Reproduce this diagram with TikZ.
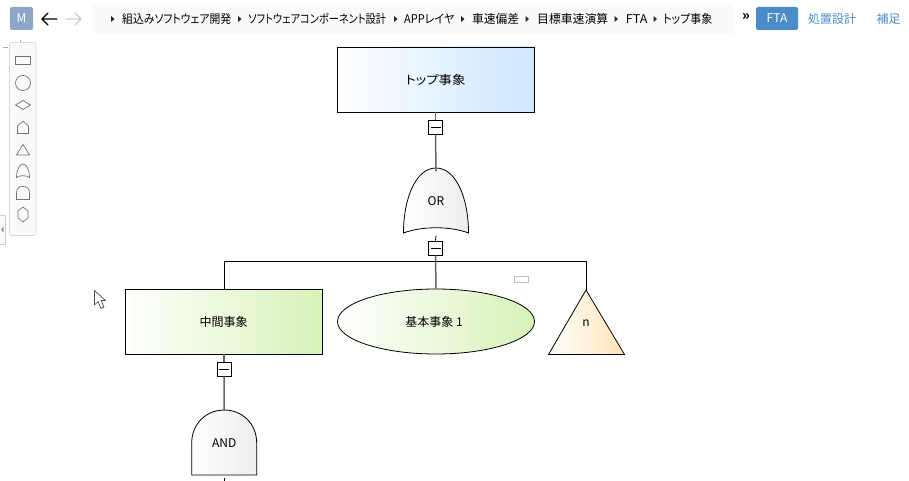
\documentclass[tikz,border=0pt]{standalone}
\usepackage{graphicx}
\usepackage{fontspec}
\setmainfont{Noto Sans CJK JP}[RawFeature=+palt]
\usetikzlibrary{shapes.geometric}
\definecolor{linkblue}{HTML}{4A8CC8}
\definecolor{mblue}{HTML}{8FA6C6}
\definecolor{topblue}{HTML}{CCE7FF}
\definecolor{leafgreen}{HTML}{D8F2B8}
\definecolor{undorange}{HTML}{FFE4B5}
\definecolor{gategray}{HTML}{EDEDED}
\tikzset{
  every node/.style={font=\fontsize{12}{14}\selectfont,text=black,inner sep=0pt},
  conn/.style={draw=black!60,line width=1.5pt},
  connk/.style={draw=black,line width=0.8pt},
  shapeline/.style={draw=black,line width=0.8pt},
  collapse/.style={draw=black,fill=white,line width=0.8pt,minimum width=14pt,minimum height=14pt},
  gatelabel/.style={minimum width=64pt,minimum height=60pt},
  crumb/.style={anchor=west},
  tri/.style={fill=black!85,draw=none},
  icon/.style={draw=black!55,line width=0.7pt},
  blueG/.style={left color=white,right color=topblue},
  greenG/.style={left color=white,right color=leafgreen},
  orangeG/.style={left color=white,right color=undorange},
  grayG/.style={left color=white,right color=gategray},
}
\newcommand{\crumbtri}[2]{\path[tri] (#1-1.5,#2-3) -- (#1+2,#2) -- (#1-1.5,#2+3) -- cycle;}
\newcommand{\fitw}[2]{\resizebox{#1pt}{\height}{#2}}
\begin{document}
\begin{tikzpicture}[x=1pt,y=-1pt]
\useasboundingbox (0,0) rectangle (909,481);
% top bar
\node[fill=mblue,rounded corners=2pt,minimum width=23pt,minimum height=23pt,text=white] (mbtn) at (21.5,18.5) {M};
\draw[black,line width=1.3pt,line cap=round] (57,19) -- (42,19) (48,13) -- (42,19) -- (48,25);
\draw[black!20,line width=1.3pt,line cap=round] (66,19) -- (81,19) (75,13) -- (81,19) -- (75,25);
\fill[black!2,rounded corners=4pt] (92,4) rectangle (734,34);
\crumbtri{112.5}{19}
\node[crumb] (c1) at (122,19) {\fitw{109}{組込みソフトウェア開発}};
\crumbtri{239.5}{19}
\node[crumb] (c2) at (248,19) {\fitw{138}{ソフトウェアコンポーネント設計}};
\crumbtri{395.5}{19}
\node[crumb] (c3) at (404,19) {\fitw{50}{APPレイヤ}};
\crumbtri{462.5}{19}
\node[crumb] (c4) at (472,19) {\fitw{47}{車速偏差}};
\crumbtri{527}{19}
\node[crumb] (c5) at (537,19) {\fitw{71}{目標車速演算}};
\crumbtri{616}{19}
\node[crumb] (c6) at (625.7,19) {\fitw{21.5}{FTA}};
\crumbtri{655}{19}
\node[crumb] (c7) at (663,19) {\fitw{49}{トップ事象}};
\node[font=\fontsize{14}{14}\selectfont\bfseries] (more) at (746,17) {»};
\node[fill=linkblue,rounded corners=2pt,minimum width=42pt,minimum height=23pt,text=white] (fta) at (777,18.5) {FTA};
\node[crumb,text=linkblue] (t1) at (808,19) {\fitw{48}{処置設計}};
\node[crumb,text=linkblue] (t2) at (876.5,19) {\fitw{24}{補足}};
% left toolbar
\draw[black!15,fill=black!2,rounded corners=2pt,line width=0.7pt] (9.5,42.5) rectangle (36,235.5);
\draw[icon] (15.5,56.5) rectangle (30.5,64.5);
\draw[icon] (23,83) circle (7.5);
\draw[icon] (15.5,105) -- (23,100.5) -- (30.5,105) -- (23,109.5) -- cycle;
\draw[icon] (17.5,133.5) -- (17.5,126) -- (23,121) -- (28.5,126) -- (28.5,133.5) -- cycle;
\draw[icon] (16.5,155) -- (23,144.5) -- (29.5,155) -- cycle;
\draw[icon] (16.5,177.5) .. controls (16.5,169) and (20,164) .. (23,164) .. controls (26,164) and (29.5,169) .. (29.5,177.5) .. controls (25,175) and (21,175) .. (16.5,177.5) -- cycle;
\draw[icon] (16.5,199.5) -- (16.5,193) .. controls (16.5,188) and (19,186.5) .. (23,186.5) .. controls (27,186.5) and (29.5,188) .. (29.5,193) -- (29.5,199.5) -- cycle;
\draw[icon] (18,211) -- (23,207) -- (28,211) -- (28,218) -- (23,222) -- (18,218) -- cycle;
\draw[black!20,fill=black!2,line width=0.7pt] (0,215.5) -- (5.5,215.5) -- (5.5,244) -- (0,244);
\fill[black!40] (1,229.5) -- (3.5,226.5) -- (3.5,232.5) -- cycle;
\draw[black!35,line width=0.5pt] (3,47.5) -- (8,47.5) (20,40) -- (20,42);
% cursor
\draw[fill=white,draw=black!70,line width=0.7pt,line join=round] (94.5,290.5) -- (94.5,305) -- (98,301.5) -- (101,308.5) -- (104,307) -- (101,300.5) -- (105.5,300.5) -- cycle;
% small marker
\draw[black!25,line width=0.8pt] (514.5,276.5) rectangle (528.5,282.5);
% main shapes
\node[shapeline,blueG,minimum width=197pt,minimum height=65pt] (top) at (435.5,79.5) {\fitw{60}{トップ事象}};
\node[collapse] (m1) at (435.5,127) {};
\draw[line width=0.9pt] (430.5,127) -- (440.5,127);
\path[shapeline,grayG] (403.5,233) .. controls (403.5,198) and (416,168) .. (436,168) .. controls (456,168) and (468.5,198) .. (468.5,233) .. controls (450,226) and (422,226) .. (403.5,233) -- cycle;
\node[gatelabel] (orgate) at (436,201.5) {OR};
\node[collapse] (m2) at (435.5,248) {};
\draw[line width=0.9pt] (430.5,248) -- (440.5,248);
\node[shapeline,greenG,minimum width=197pt,minimum height=65pt] (mid) at (223.5,321.5) {中間事象};
\node[shapeline,greenG,ellipse,minimum width=197pt,minimum height=65pt] (basic) at (436,321.5) {\hspace*{-4pt}基本事象 1};
\path[shapeline,orangeG] (586,290) -- (624.5,354.5) -- (548.5,354.5) -- cycle;
\node[minimum width=76pt,minimum height=64pt] (und) at (586,323) {n};
\node[collapse] (m3) at (224,369) {};
\draw[line width=0.9pt] (219,369) -- (229,369);
\path[shapeline,grayG] (191.7,475) -- (191.7,443) .. controls (191.7,424) and (206,410) .. (224.2,410) .. controls (242.4,410) and (256.7,424) .. (256.7,443) -- (256.7,475) -- cycle;
\node[gatelabel,minimum height=65pt] (andgate) at (224.2,443.5) {AND};
% connectors
\coordinate (bus) at (436,261.5);
\coordinate (andout) at (224,481);
\draw[conn] (top.south) -- (m1.north);
\draw[conn] (m1.south) -- (orgate.north);
\draw[connk] (orgate.south) ++(0,4) -- (m2.north);
\draw[conn] (m2.south) -- (basic.north);
\draw[connk] (mid.north -| m3) -- (bus -| m3) -- (bus -| und) -- (und.north);
\draw[conn] (mid.south -| m3) -- (m3.north);
\draw[conn] (m3.south) -- (andgate.north);
\draw[connk] (andgate.south -| andout) ++(0,2) -- (andout);
\end{tikzpicture}
\end{document}
